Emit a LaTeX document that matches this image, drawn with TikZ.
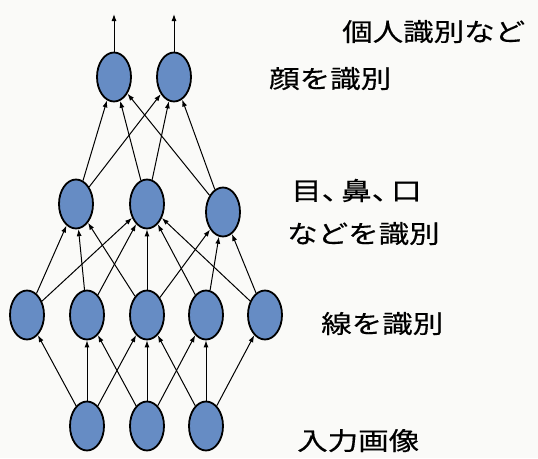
\documentclass[tikz,border=0pt]{standalone}
\usepackage{fontspec}
\newfontfamily\jp[FakeStretch=1.22,FakeBold=0.4]{Noto Sans CJK JP}
\usetikzlibrary{shapes.geometric,arrows.meta}
\definecolor{nodeblue}{RGB}{102,140,196}
\definecolor{bg}{RGB}{250,250,248}
\tikzset{
  neuron/.style={ellipse,draw=black,line width=1.8pt,fill=nodeblue,minimum width=34pt,minimum height=49pt,inner sep=0pt},
  conn/.style={line width=1pt,-{Latex[length=7pt,width=5pt]}},
  lbl/.style={anchor=base west,inner sep=0pt,font=\jp\fontsize{25pt}{38pt}\selectfont}
}
\begin{document}
\begin{tikzpicture}[x=1pt,y=-1pt]
\fill[bg] (0,0) rectangle (538,458);
\useasboundingbox (0,0) rectangle (538,458);
% input layer
\node[neuron] (i1) at (87,426) {};
\node[neuron] (i2) at (147,426) {};
\node[neuron] (i3) at (206,426) {};
% line layer
\node[neuron] (a1) at (27,315) {};
\node[neuron] (a2) at (87,315) {};
\node[neuron] (a3) at (147,315) {};
\node[neuron] (a4) at (206,315) {};
\node[neuron] (a5) at (265,315) {};
% parts layer
\node[neuron] (b1) at (76,204) {};
\node[neuron] (b2) at (147,204) {};
\node[neuron] (b3) at (223,212) {};
% face layer
\node[neuron] (c1) at (114,77) {};
\node[neuron] (c2) at (174,77) {};
\coordinate (o1) at (114,14);
\coordinate (o2) at (174,14);
% connections
\foreach \s/\t in {i1/a1,i1/a2,i1/a3,i2/a2,i2/a3,i2/a4,i3/a3,i3/a4,i3/a5,
  a1/b1,a1/b2,a2/b1,a2/b2,a3/b1,a3/b2,a3/b3,a4/b2,a4/b3,a5/b2,a5/b3,
  b1/c1,b1/c2,b2/c1,b2/c2,b3/c1,b3/c2,c1/o1,c2/o2}
  \draw[conn] (\s) -- (\t);
% labels
\node[lbl] (t1) at (342,41) {個人識別など};
\node[lbl] (t2) at (269,88) {顔を識別};
\node[lbl] (t3) at (291,200) {目、\hspace{-11pt}鼻、\hspace{-11pt}口};
\node[lbl] (t4) at (287,243) {などを識別};
\node[lbl] (t5) at (321,333) {線を識別};
\node[lbl] (t6) at (297,450) {入力画像};
\end{tikzpicture}
\end{document}
